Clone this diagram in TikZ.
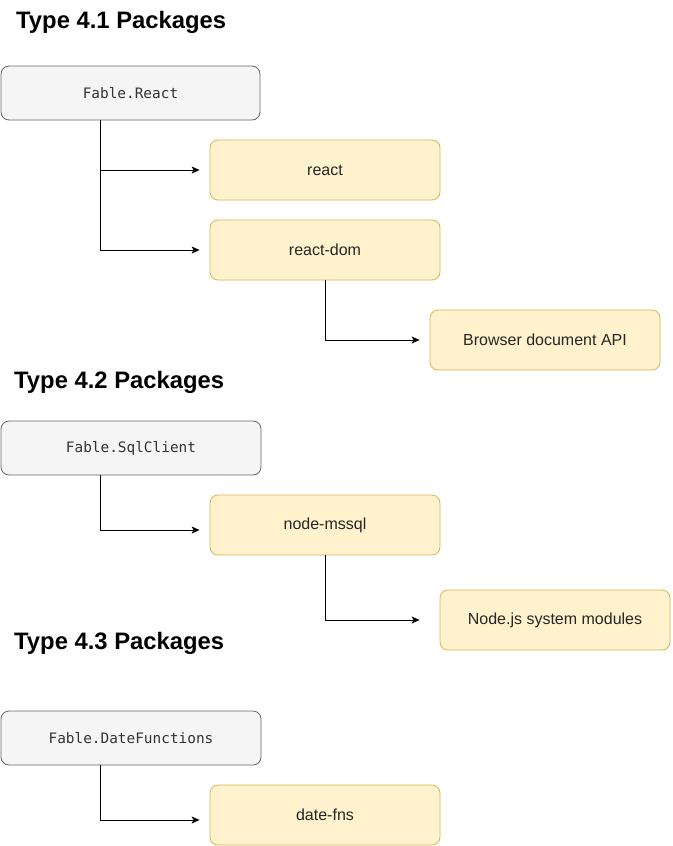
\documentclass[tikz,border=0pt]{standalone}
\usepackage{fontspec}
\setmainfont{Liberation Sans}
\newfontfamily\monofont{DejaVu Sans Mono}
\usetikzlibrary{arrows.meta}
\definecolor{grayfill}{HTML}{F5F5F5}
\definecolor{graydraw}{HTML}{666666}
\definecolor{graytext}{HTML}{333333}
\definecolor{yelfill}{HTML}{FFF2CC}
\definecolor{yeldraw}{HTML}{D6B656}
\tikzset{
  x=1pt, y=-1pt,
  fablebox/.style={draw=graydraw, fill=grayfill, line width=0.8pt, rounded corners=8pt,
    minimum width=259pt, minimum height=54pt, inner sep=0pt, text=graytext,
    font=\monofont\fontsize{14.4}{16}\selectfont},
  pkgbox/.style={draw=yeldraw, fill=yelfill, line width=0.8pt, rounded corners=8pt,
    minimum width=230pt, minimum height=60pt, inner sep=0pt, text=black!85,
    font=\fontsize{16}{19}\selectfont},
  heading/.style={anchor=west, inner sep=0pt, font=\bfseries\fontsize{23.8}{28}\selectfont},
  conn/.style={draw=black, line width=1pt, -{Stealth[length=8pt,width=7pt,inset=2pt]}}
}
\begin{document}
\begin{tikzpicture}
\useasboundingbox (0,0) rectangle (672,846);
% Type 4.1
\node[heading] (h1) at (16,22) {Type 4.1 Packages};
\node[fablebox] (fr) at (130.5,93) {Fable.React};
\node[pkgbox] (react) at (325,170) {react};
\node[pkgbox] (rdom) at (325,250) {react-dom};
\node[pkgbox] (bda) at (545,340) {Browser document API};
\draw[conn, shorten >=10pt] ([xshift=-30.5pt]fr.south) |- (react.west);
\draw[conn, shorten >=10pt] ([xshift=-30.5pt]fr.south) |- (rdom.west);
\draw[conn, shorten >=10pt] (rdom.south) |- (bda.west);
% Type 4.2
\node[heading] (h2) at (14,382) {Type 4.2 Packages};
\node[fablebox, minimum width=260pt] (sql) at (131,448) {Fable.SqlClient};
\node[pkgbox] (mssql) at (325,525) {node-mssql};
\node[pkgbox] (nodesys) at (555,620) {Node.js system modules};
\coordinate (mssqlin) at ([yshift=-5pt]mssql.west);
\draw[conn, shorten >=10pt] ([xshift=-31pt]sql.south) |- (mssqlin);
\draw[conn, shorten >=20pt] (mssql.south) |- (nodesys.west);
% Type 4.3
\node[heading] (h3) at (14,643) {Type 4.3 Packages};
\node[fablebox, minimum width=260pt] (datef) at (131,738) {Fable.DateFunctions};
\node[pkgbox] (dfns) at (325,815) {date-fns};
\coordinate (dfnsin) at ([yshift=-5pt]dfns.west);
\draw[conn, shorten >=10pt] ([xshift=-31pt]datef.south) |- (dfnsin);
\end{tikzpicture}
\end{document}
